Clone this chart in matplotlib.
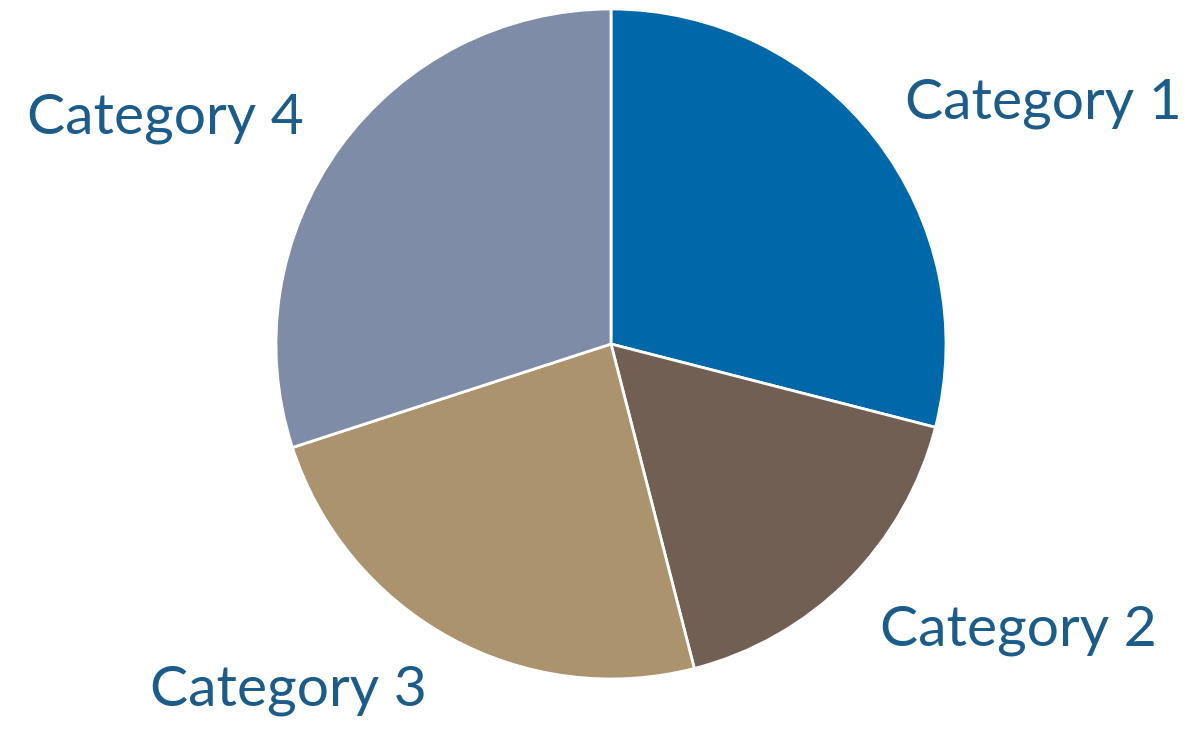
import matplotlib.pyplot as plt

categories = ['Category 1', 'Category 2', 'Category 3', 'Category 4']
values = [29, 17, 24, 30]
colors = ['#0067A8', '#725F54', '#AB936E', '#7F8CA8']

W, H = 1198, 729
fig = plt.figure(figsize=(W / 100, H / 100), dpi=100)
ax = fig.add_axes([0, 0, 1, 1])

# pie centre / radius in pixel units
cx, cy, r = 611, H - 344, 335
ax.pie(values, colors=colors, startangle=90, counterclock=False,
       center=(cx, cy), radius=r, frame=True,
       wedgeprops=dict(edgecolor='white', linewidth=2))
ax.set_xlim(0, W)
ax.set_ylim(0, H)
ax.set_aspect('equal')
ax.axis('off')

# label spots, pixel coordinates from the top left
label_pos = [(1043, 103), (1018, 630), (288, 690), (165, 118)]
for name, (px, py) in zip(categories, label_pos):
    ax.text(px, H - py, name, ha='center', va='center', fontsize=41,
            color='#1B5C8A', family='Lato')

fig.savefig('out.png', dpi=100)
